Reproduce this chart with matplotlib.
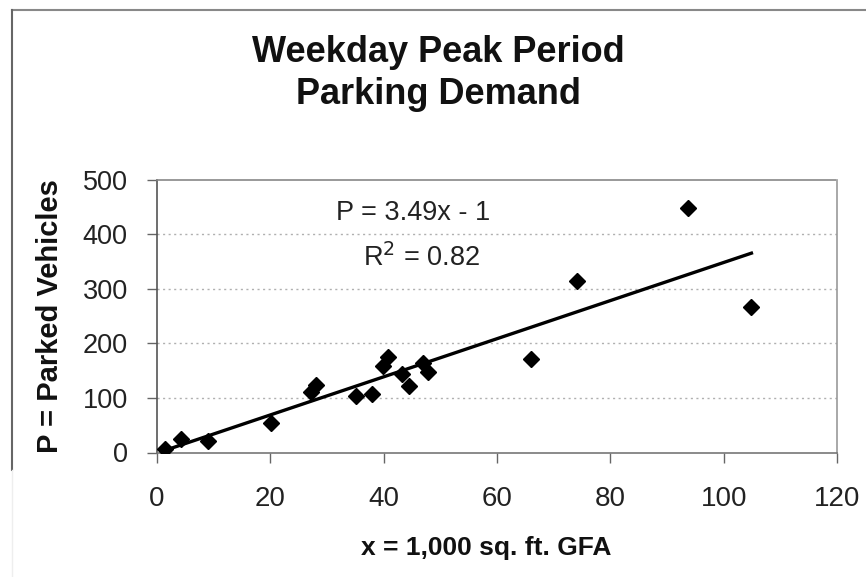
import matplotlib
matplotlib.use("Agg")
import matplotlib.pyplot as plt
from matplotlib.lines import Line2D
import numpy as np

plt.rcParams['font.family'] = ['Liberation Sans', 'DejaVu Sans']

# Data
x_gfa = [1.4, 4.3, 9.0, 20.2, 27.2, 28.1, 35.2, 37.9, 39.8, 40.8, 43.2, 44.4,
         46.9, 47.9, 66.0, 74.1, 93.7, 104.9]
p_parked = [7, 25, 21, 54, 111, 124, 103, 107, 159, 174, 143, 121,
            164, 148, 172, 315, 447, 267]
slope = 3.49
intercept = -1
r_squared = 0.82
x_ticks = [0, 20, 40, 60, 80, 100, 120]
y_ticks = [0, 100, 200, 300, 400, 500]

W, H = 866, 577
fig = plt.figure(figsize=(W / 100, H / 100), dpi=100)
ax = fig.add_axes([157 / W, 1 - 452.5 / H, (837 - 157) / W, (452.5 - 179.5) / H])

ax.set_xlim(0, 120)
ax.set_ylim(0, 500)
ax.set_xticks(x_ticks)
ax.set_yticks(y_ticks)
ax.tick_params(axis='x', direction='out', length=7, width=1, color='#666666',
               labelsize=20, pad=17)
ax.tick_params(axis='y', direction='out', length=7, width=1, color='#666666',
               labelsize=19.5, pad=14)
for lab in ax.get_xticklabels() + ax.get_yticklabels():
    lab.set_color('#222222')

# gridlines
for yv in y_ticks[1:-1]:
    ax.axhline(yv, color='#b0b0b0', lw=1.0, ls=(0, (1.5, 2.5)), zorder=0)

ax.spines['left'].set_color('#555555')
ax.spines['bottom'].set_color('#777777')
ax.spines['right'].set_color('#999999')
ax.spines['top'].set_color('#888888')
ax.spines['top'].set_linestyle((0, (2, 1)))
for s in ax.spines.values():
    s.set_linewidth(1.2)

# trendline
xl = np.array([min(x_gfa), max(x_gfa)])
ax.plot(xl, slope * xl + intercept, color='black', lw=2.4, zorder=3)

ax.plot(x_gfa, p_parked, ls='none', marker='D', markersize=8,
        color='black', zorder=4)

fig.text(413 / W, 1 - 213 / H, f"P = {slope:.2f}x - {abs(intercept)}",
         ha='center', va='center', fontsize=19.5, color='#222222')
fig.text(422 / W, 1 - 258 / H, f"R$^2$ = {r_squared:.2f}",
         ha='center', va='center', fontsize=19.5, color='#222222')

fig.text(438 / W, 1 - 52 / H, "Weekday Peak Period", ha='center', va='center',
         fontsize=26, fontweight='bold', color='#111111')
fig.text(438 / W, 1 - 95 / H, "Parking Demand", ha='center', va='center',
         fontsize=26, fontweight='bold', color='#111111')

fig.text(50 / W, 1 - 316 / H, "P = Parked Vehicles", ha='center', va='center',
         rotation=90, fontsize=21, fontweight='bold', color='#111111')
fig.text(486 / W, 1 - 548 / H, "x = 1,000 sq. ft. GFA", ha='center', va='center',
         fontsize=19, fontweight='bold', color='#111111')

# outer border (top and left)
fig.add_artist(Line2D([12 / W, 1], [1 - 10 / H, 1 - 10 / H], transform=fig.transFigure,
                      color='#888888', lw=1.5))
fig.add_artist(Line2D([12 / W, 12 / W], [1 - 10 / H, 1 - 470 / H], transform=fig.transFigure,
                      color='#666666', lw=1.5))
fig.add_artist(Line2D([12 / W, 12 / W], [1 - 470 / H, 0], transform=fig.transFigure,
                      color='#eeeeee', lw=1.0))

fig.savefig("out.png", dpi=100)
